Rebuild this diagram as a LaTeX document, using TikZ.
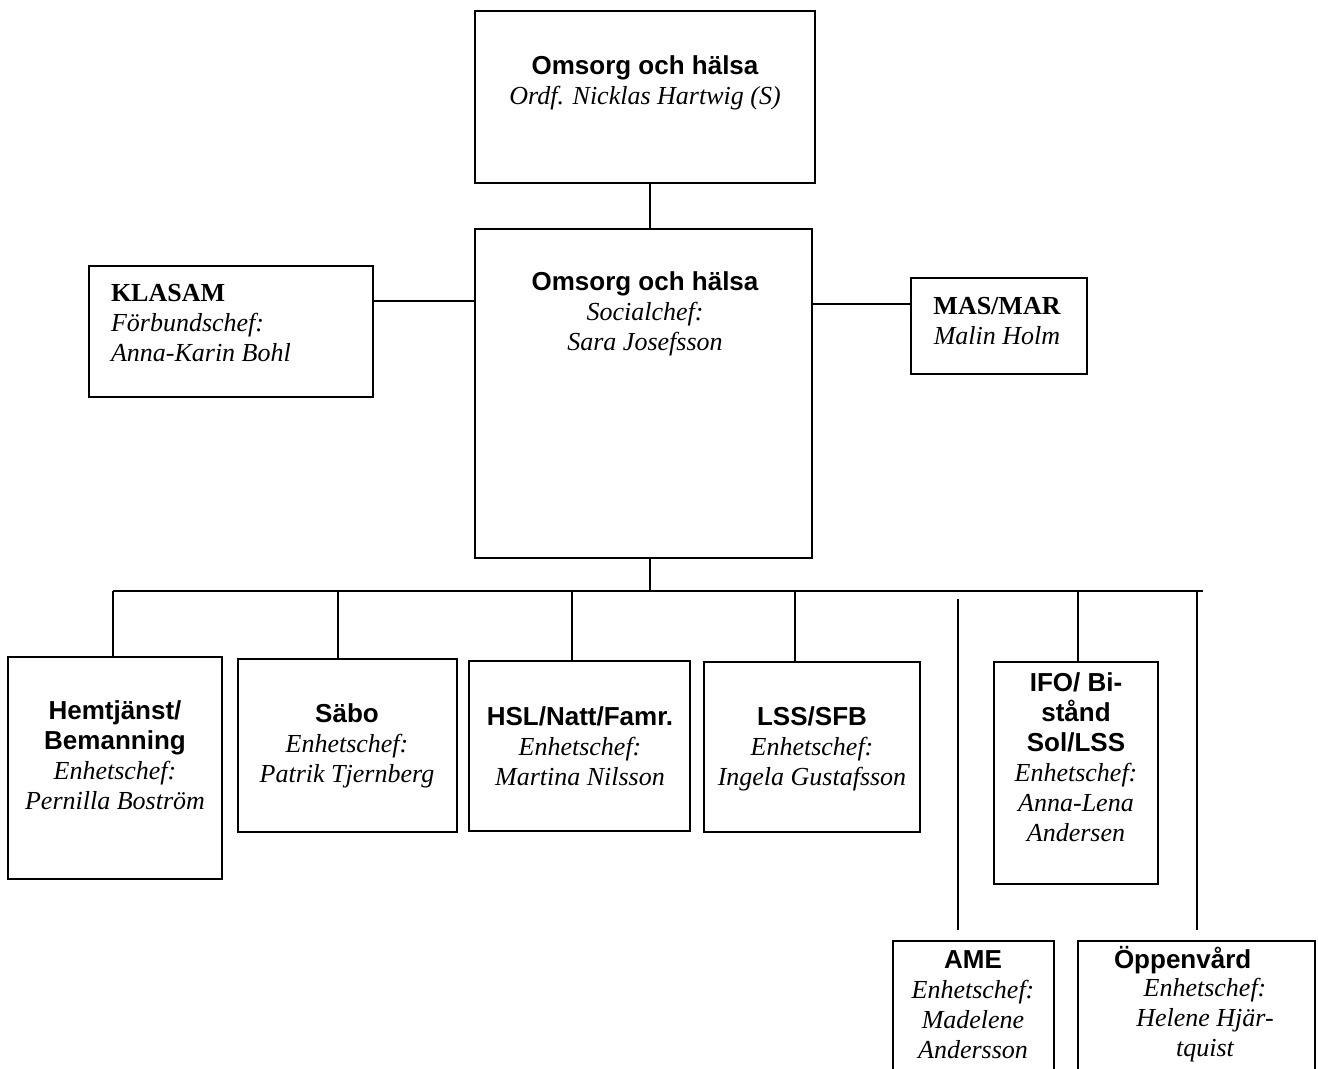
\documentclass[tikz,border=0pt]{standalone}
\usepackage{fontspec}
\setmainfont{Liberation Serif}
\newfontfamily\hdfont{Liberation Sans}
\usetikzlibrary{fit}
\newcommand\orgH[1]{{\hdfont\bfseries #1}}
\newcommand\orgI[1]{{\itshape #1}}
\newcommand\orgB[1]{{\bfseries #1}}
\begin{document}
\begin{tikzpicture}[x=0.75pt,y=-0.75pt,line width=1.5pt,
  orgbox/.style={draw,rectangle,inner sep=0pt,line width=1.5pt},
  orgtxt/.style={inner sep=0pt,align=center,anchor=north,font=\fontsize{19.5}{22.5}\selectfont},
  orgtxtl/.style={inner sep=0pt,align=left,anchor=north west,font=\fontsize{19.5}{22.5}\selectfont}]
\useasboundingbox (0,0) rectangle (1318,1068);
\clip (0,0) rectangle (1318,1068);
% boxes
\node[orgbox,fit={(475,11) (815,183)}] (top) {};
\node[orgbox,fit={(475,229) (812,558)}] (main) {};
\node[orgbox,fit={(89,266) (373,397)}] (klasam) {};
\node[orgbox,fit={(911,278) (1087,374)}] (mas) {};
\node[orgbox,fit={(8,657) (222,879)}] (hem) {};
\node[orgbox,fit={(238,659) (457,832)}] (sabo) {};
\node[orgbox,fit={(469,661) (690,831)}] (hsl) {};
\node[orgbox,fit={(704,662) (920,832)}] (lss) {};
\node[orgbox,fit={(994,662) (1158,884)}] (ifo) {};
\node[orgbox,fit={(893,941) (1054,1100)}] (ame) {};
\node[orgbox,fit={(1078,941) (1315,1100)}] (opp) {};
% texts
\node[orgtxt] (ttop) at (645,55) {\orgH{Omsorg och hälsa}\\\orgI{Ordf. Nicklas Hartwig (S)}};
\node[orgtxt] (tmain) at (645,271) {\orgH{Omsorg och hälsa}\\\orgI{Socialchef:}\\\orgI{Sara Josefsson}};
\node[orgtxtl] (tklasam) at (110,283) {\orgB{KLASAM}\\\orgI{Förbundschef:}\\\orgI{Anna-Karin Bohl}};
\node[orgtxt] (tmas) at (997,296) {\orgB{MAS/MAR}\\\orgI{Malin Holm}};
\node[orgtxt] (them) at (115,700) {\orgH{Hemtjänst/}\\\orgH{Bemanning}\\\orgI{Enhetschef:}\\\orgI{Pernilla Boström}};
\node[orgtxt] (tsabo) at (347,703) {\orgH{Säbo}\\\orgI{Enhetschef:}\\\orgI{Patrik Tjernberg}};
\node[orgtxt] (thsl) at (580,706) {\orgH{HSL/Natt/Famr.}\\\orgI{Enhetschef:}\\\orgI{Martina Nilsson}};
\node[orgtxt] (tlss) at (812,706) {\orgH{LSS/SFB}\\\orgI{Enhetschef:}\\\orgI{Ingela Gustafsson}};
\node[orgtxt] (tifo) at (1076,672) {\orgH{IFO/ Bi-}\\\orgH{stånd}\\\orgH{Sol/LSS}\\\orgI{Enhetschef:}\\\orgI{Anna-Lena}\\\orgI{Andersen}};
\node[orgtxt] (tame) at (973,950) {\orgH{AME}\\\orgI{Enhetschef:}\\\orgI{Madelene}\\\orgI{Andersson}};
\node[orgtxtl] (topp) at (1113,945) {\orgH{Öppenvård}};
\node[orgtxt] (topp2) at (1205,977) {\orgI{Enhetschef:}\\\orgI{Helene Hjär-}\\\orgI{tquist}};
% connector helper coordinates
\coordinate (xtm) at (650,0);
\coordinate (ykl) at (0,301);
\coordinate (ymas) at (0,304);
\coordinate (busL) at (113,591);
\coordinate (busR) at (1203,591);
\coordinate (dS) at (338,591);
\coordinate (dH) at (572,591);
\coordinate (dL) at (795,591);
\coordinate (dI) at (1078,591);
\coordinate (ameT) at (958,599);
\coordinate (ameB) at (958,930);
\coordinate (oppT) at (1197,591);
\coordinate (oppB) at (1197,930);
% connectors
\draw (top.south -| xtm) -- (main.north -| xtm);
\draw (klasam.east |- ykl) -- (main.west |- ykl);
\draw (main.east |- ymas) -- (mas.west |- ymas);
\draw (main.south -| xtm) -- (busL -| xtm);
\draw (busL) -- (busR);
\draw (busL) -- (hem.north -| busL);
\draw (dS) -- (sabo.north -| dS);
\draw (dH) -- (hsl.north -| dH);
\draw (dL) -- (lss.north -| dL);
\draw (dI) -- (ifo.north -| dI);
\draw (ameT) -- (ameB);
\draw (oppT) -- (oppB);
\end{tikzpicture}
\end{document}
